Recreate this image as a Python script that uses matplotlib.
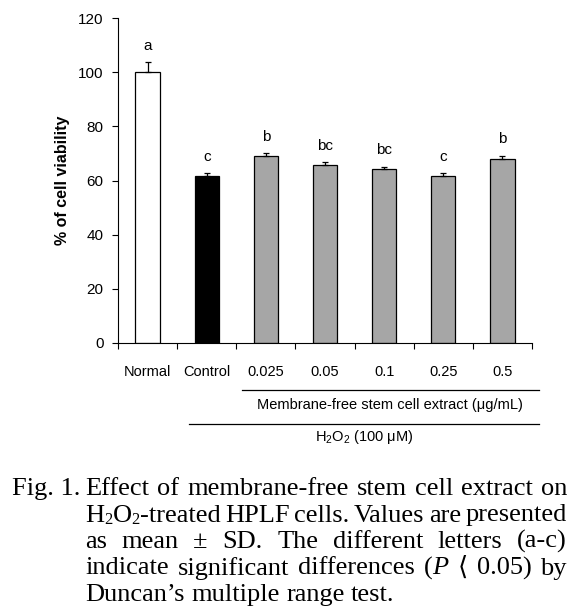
import matplotlib
matplotlib.use('Agg')
import matplotlib.pyplot as plt
from matplotlib.lines import Line2D

plt.rcParams['font.family'] = ['Liberation Sans', 'DejaVu Sans']
plt.rcParams['mathtext.fontset'] = 'custom'
plt.rcParams['mathtext.rm'] = 'Liberation Sans'
plt.rcParams['mathtext.it'] = 'Liberation Sans:italic'

# data
groups = ['Normal', 'Control', '0.025', '0.05', '0.1', '0.25', '0.5']
viability = [100.0, 61.7, 69.2, 65.9, 64.2, 61.6, 67.9]
sd = [3.7, 0.9, 0.9, 0.9, 0.9, 1.0, 1.3]
letters = ['a', 'c', 'b', 'bc', 'bc', 'c', 'b']
bar_colors = ['white', 'black', '#a6a6a6', '#a6a6a6', '#a6a6a6', '#a6a6a6', '#a6a6a6']
yticks = [0, 20, 40, 60, 80, 100, 120]

caption = [
    'Effect of membrane-free stem cell extract on',
    'H_2O_2-treated HPLF cells. Values are presented',
    'as mean \u00b1 SD. The different letters (a-c)',
    'indicate significant differences (~P \u27e8 0.05) by',
    'Duncan\u2019s multiple range test.',
]

W, H = 588, 615
fig = plt.figure(figsize=(W / 100, H / 100), dpi=100)
ax = fig.add_axes([118 / W, 1 - 343 / H, 414 / W, 325 / H])

x = list(range(len(groups)))
ax.bar(x, viability, width=0.41, color=bar_colors, edgecolor='black',
       linewidth=0.9, zorder=2)
ax.errorbar(x, viability, yerr=[[0] * len(sd), sd], fmt='none', ecolor='black',
            elinewidth=0.9, capsize=2.2, capthick=0.9, zorder=3)
for i in x:
    ax.text(i, viability[i] + sd[i] + 6, letters[i], ha='center', va='center',
            fontsize=11)

ax.set_xlim(-0.5, len(groups) - 0.5)
ax.set_ylim(0, 120)
ax.set_yticks(yticks)
ax.set_xticks(x)
ax.set_xticklabels(groups)
ax.set_xticks([i - 0.5 for i in range(len(groups) + 1)], minor=True)
for s in ['top', 'right']:
    ax.spines[s].set_visible(False)
for s in ['left', 'bottom']:
    ax.spines[s].set_linewidth(0.8)
ax.tick_params(axis='y', direction='out', length=4.5, width=0.8, labelsize=11, pad=6)
ax.tick_params(axis='x', which='major', length=0, labelsize=10.5, pad=16)
ax.tick_params(axis='x', which='minor', direction='out', length=4.5, width=0.8)

fig.text(63 / W, 1 - 180 / H, '% of cell viability', rotation=90, fontweight='bold',
         fontsize=11.5, ha='center', va='center')

# group brackets under the axis
fig.add_artist(Line2D([242 / W, 539 / W], [1 - 390 / H] * 2, color='black', lw=0.9))
fig.text(390 / W, 1 - 405 / H, 'Membrane-free stem cell extract (\u03bcg/mL)',
         ha='center', va='center', fontsize=10.5)
fig.add_artist(Line2D([189 / W, 539 / W], [1 - 424 / H] * 2, color='black', lw=0.9))
fig.text(364 / W, 1 - 437 / H, r'H$_2$O$_2$ (100 $\mathrm{\mu}$M)',
         ha='center', va='center', fontsize=10.5)

# caption, justified like the journal layout
cap_family = ['Liberation Serif', 'DejaVu Sans']
FS = 19
renderer = fig.canvas.get_renderer()


def split_pieces(word):
    out = []
    buf = ''
    i = 0
    while i < len(word):
        c = word[i]
        if c in '_~':
            if buf:
                out.append((buf, 'n'))
                buf = ''
            out.append((word[i + 1], 'sub' if c == '_' else 'it'))
            i += 2
            continue
        buf += c
        i += 1
    if buf:
        out.append((buf, 'n'))
    return out


def piece_kw(kind):
    if kind == 'sub':
        return dict(fontsize=FS * 0.62)
    if kind == 'it':
        return dict(fontsize=FS, style='italic')
    return dict(fontsize=FS)


def piece_width(txt, kind):
    t = fig.text(0, 0, txt, family=cap_family, **piece_kw(kind))
    w = t.get_window_extent(renderer).width
    t.remove()
    return w


def draw_word(xp, yp, word):
    for txt, kind in split_pieces(word):
        dy = -3 if kind == 'sub' else 0
        fig.text(xp / W, 1 - (yp - dy) / H, txt, family=cap_family,
                 va='baseline', ha='left', **piece_kw(kind))
        xp += piece_width(txt, kind)


space = piece_width('a a', 'n') - piece_width('aa', 'n')
left, right = 85, 567
fig.text(12 / W, 1 - 495 / H, 'Fig. 1.', family=cap_family, fontsize=FS,
         va='baseline', ha='left')
for k, line in enumerate(caption):
    yb = 495 + k * 26.5
    words = line.split(' ')
    widths = [sum(piece_width(t, kd) for t, kd in split_pieces(w)) for w in words]
    if k < len(caption) - 1:
        gap = (right - left - sum(widths)) / (len(words) - 1)
    else:
        gap = space
    xp = left
    for w, wd in zip(words, widths):
        draw_word(xp, yb, w)
        xp += wd + gap

fig.savefig('out.png', dpi=100)
